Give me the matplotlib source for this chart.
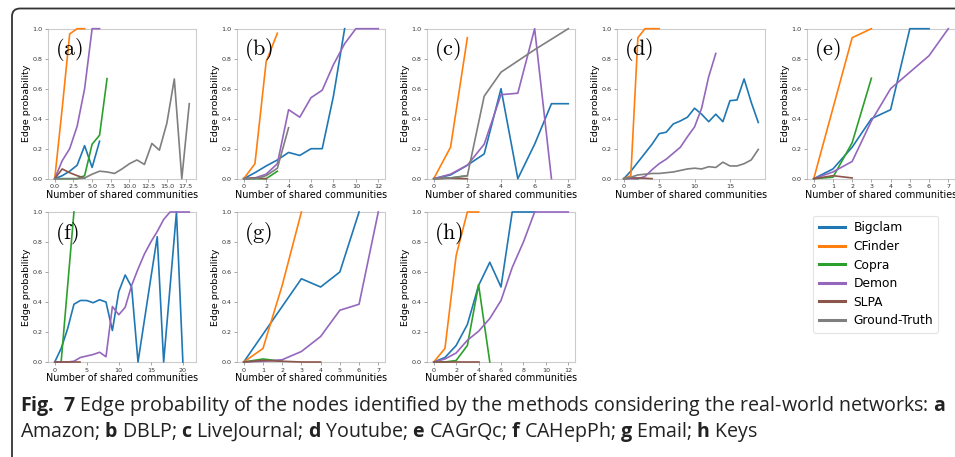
import matplotlib
matplotlib.use('Agg')
import matplotlib.pyplot as plt
from matplotlib.patches import FancyBboxPatch
from matplotlib.ticker import MultipleLocator
from matplotlib.transforms import IdentityTransform

methods = ['Bigclam', 'CFinder', 'Copra', 'Demon', 'SLPA', 'Ground-Truth']
colors = ['#1f77b4', '#ff7f0e', '#2ca02c', '#9467bd', '#8c564b', '#7f7f7f']

# (a) Amazon
a_bigclam = [0, 0.02, 0.05, 0.09, 0.22, 0.075, 0.25]
a_cfinder = [0, 0.47, 0.965, 1.0, 1.0]
a_copra = [0, 0, 0, 0, 0.02, 0.23, 0.29, 0.667]
a_demon = [0, 0.12, 0.2, 0.35, 0.6, 1.0, 1.0]
a_slpa = [0, 0.065, 0.04, 0.02, 0.005]
a_truth = [0, 0, 0, 0, 0.005, 0.03, 0.05, 0.045, 0.035, 0.065, 0.1, 0.125,
           0.095, 0.235, 0.19, 0.37, 0.665, 0.0, 0.5]

# (b) DBLP
b_bigclam = [0, 0.04, 0.085, 0.125, 0.175, 0.155, 0.2, 0.2, 0.55, 1.0]
b_cfinder = [0, 0.1, 0.78, 0.97]
b_copra = [0, 0, 0.0, 0.05]
b_demon = [0, 0.005, 0.03, 0.1, 0.46, 0.41, 0.54, 0.59, 0.76, 0.9, 1.0, 1.0, 1.0]
b_slpa = [0, 0.005, 0.0]
b_truth = [0, 0.0, 0.02, 0.07, 0.34]

# (c) LiveJournal
c_bigclam = [0, 0.025, 0.09, 0.165, 0.6, 0.0, 0.23, 0.5, 0.5]
c_cfinder = [0, 0.21, 0.94]
c_copra = [0, 0.005, 0.02]
c_demon = [0, 0.03, 0.09, 0.23, 0.56, 0.57, 1.0, 0.0]
c_slpa = [0, 0.003, 0.0]
c_truth = [0, 0.005, 0.02, 0.55, 0.71, 0.785, 0.86, 0.93, 1.0]

# (d) Youtube
d_bigclam = [0, 0.05, 0.11, 0.17, 0.23, 0.3, 0.31, 0.365, 0.385, 0.41, 0.47,
             0.43, 0.38, 0.43, 0.38, 0.52, 0.525, 0.665, 0.51, 0.375]
d_cfinder = [0, 0.02, 0.94, 1.0, 1.0, 1.0]
d_copra = [0, 0.003, 0.0]
d_demon = [0, 0, 0, 0.015, 0.06, 0.1, 0.13, 0.17, 0.21, 0.28, 0.345, 0.47, 0.68, 0.835]
d_slpa = [0, 0.005, 0.005, 0.003, 0.0]
d_truth = [0, 0.01, 0.025, 0.03, 0.035, 0.035, 0.04, 0.045, 0.055, 0.065, 0.07,
           0.065, 0.08, 0.075, 0.11, 0.085, 0.085, 0.1, 0.125, 0.195]

# (e) CAGrQc
e_bigclam = [0, 0.065, 0.21, 0.4, 0.46, 1.0, 1.0]
e_cfinder = [0, 0.47, 0.94, 1.0]
e_copra = [0, 0.01, 0.24, 0.67]
e_demon = [0, 0.045, 0.115, 0.385, 0.6, 0.71, 0.82, 1.0]
e_slpa = [0, 0.02, 0.005]

# (f) CAHepPh
f_bigclam = [0, 0.09, 0.22, 0.385, 0.41, 0.41, 0.395, 0.415, 0.4, 0.21, 0.47,
             0.58, 0.5, 0.0, 0.28, 0.56, 0.835, 0.0, 0.5, 1.0, 0.0]
f_copra = [0, 0, 0.5, 1.0]
f_demon = [0, 0, 0, 0.005, 0.03, 0.04, 0.05, 0.065, 0.035, 0.37, 0.315, 0.365,
           0.51, 0.62, 0.72, 0.8, 0.87, 0.95, 1.0, 1.0, 1.0, 1.0]
f_slpa = [0, 0, 0, 0, 0]

# (g) Email
g_bigclam = [0, 0.185, 0.37, 0.555, 0.5, 0.6, 1.0]
g_cfinder = [0, 0.09, 0.51, 1.0]
g_copra = [0, 0.02, 0.005]
g_demon = [0, 0.005, 0.015, 0.07, 0.17, 0.345, 0.385, 1.0]
g_slpa = [0, 0.01, 0.005, 0.0, 0.0]

# (h) Keys
h_bigclam = [0, 0.03, 0.11, 0.25, 0.51, 0.665, 0.5, 1.0, 1.0, 1.0]
h_cfinder = [0, 0.09, 0.71, 1.0, 1.0]
h_copra = [0, 0.0, 0.01, 0.11, 0.515, 0.0]
h_demon = [0, 0.02, 0.06, 0.145, 0.205, 0.29, 0.41, 0.63, 0.8, 1.0, 1.0, 1.0, 1.0]
h_slpa = [0, 0, 0, 0, 0]

panels = [
    ('a', [a_bigclam, a_cfinder, a_copra, a_demon, a_slpa, a_truth], 2.5),
    ('b', [b_bigclam, b_cfinder, b_copra, b_demon, b_slpa, b_truth], 2),
    ('c', [c_bigclam, c_cfinder, c_copra, c_demon, c_slpa, c_truth], 2),
    ('d', [d_bigclam, d_cfinder, d_copra, d_demon, d_slpa, d_truth], 5),
    ('e', [e_bigclam, e_cfinder, e_copra, e_demon, e_slpa, None], 1),
    ('f', [f_bigclam, None, f_copra, f_demon, f_slpa, None], 5),
    ('g', [g_bigclam, g_cfinder, g_copra, g_demon, g_slpa, None], 1),
    ('h', [h_bigclam, h_cfinder, h_copra, h_demon, h_slpa, None], 2),
]

plt.rcParams['mathtext.fontset'] = 'custom'
plt.rcParams['mathtext.rm'] = 'Open Sans'
plt.rcParams['mathtext.bf'] = 'Open Sans:bold'

W, H = 955, 457
fig = plt.figure(figsize=(W / 100, H / 100), dpi=100)

lefts = [48, 237, 427, 617, 807]
tops = [28.7, 212]
aw, ah = 148, 150

axes = []
for i, (lab, series, step) in enumerate(panels):
    r, c = divmod(i, 5)
    ax = fig.add_axes([lefts[c] / W, 1 - (tops[r] + ah) / H, aw / W, ah / H])
    for name, col, vals in zip(methods, colors, series):
        if vals is None:
            continue
        ax.plot(range(len(vals)), vals, color=col, lw=1.2, label=name,
                clip_on=False)
    ax.set_ylim(0, 1)
    ax.xaxis.set_major_locator(MultipleLocator(step))
    ax.yaxis.set_major_locator(MultipleLocator(0.2))
    for s in ax.spines.values():
        s.set_color('#cccccc')
        s.set_linewidth(0.8)
        s.set_zorder(1)
    ax.tick_params(labelsize=4.6, length=2.5, width=0.6, color='#999999',
                   labelcolor='#333333', pad=1.5)
    ax.set_xlabel('Number of shared communities', fontsize=6.9, labelpad=0.5)
    ax.set_ylabel('Edge probability', fontsize=6.8, labelpad=1)
    ax.text(0.05, 0.86, r'$\mathrm{(%s)}$' % lab, transform=ax.transAxes,
            fontsize=16, va='center', math_fontfamily='cm')
    axes.append(ax)

handles, labels = axes[0].get_legend_handles_labels()
leg = fig.legend(handles, labels, loc='upper left',
                 bbox_to_anchor=(813 / W, 1 - 216 / H), fontsize=8.8,
                 frameon=True, edgecolor='#dddddd', fancybox=True,
                 handlelength=2.2, labelspacing=0.45, borderpad=0.45,
                 handletextpad=0.65, borderaxespad=0)
leg.get_frame().set_linewidth(0.8)
for ln in leg.get_lines():
    ln.set_linewidth(2.2)

# rounded frame around the figure
frame = FancyBboxPatch((12, -60), 1100, H - 8.5 + 60,
                       boxstyle='round,pad=0,rounding_size=8',
                       transform=IdentityTransform(), fill=False,
                       ec='#333333', lw=1.3)
fig.add_artist(frame)

cap1 = (r'$\mathbf{Fig.\ 7}$ Edge probability of the nodes identified by the '
        r'methods considering the real-world networks: $\mathbf{a}$')
cap2 = (r'Amazon; $\mathbf{b}$ DBLP; $\mathbf{c}$ LiveJournal; $\mathbf{d}$ Youtube; '
        r'$\mathbf{e}$ CAGrQc; $\mathbf{f}$ CAHepPh; $\mathbf{g}$ Email; $\mathbf{h}$ Keys')
fig.text(20 / W, 1 - 411 / H, cap1, fontsize=14.15, family='Open Sans',
         color='#222222', va='baseline')
fig.text(20 / W, 1 - 437 / H, cap2, fontsize=14.15, family='Open Sans',
         color='#222222', va='baseline')

fig.savefig('out.png', dpi=100)
